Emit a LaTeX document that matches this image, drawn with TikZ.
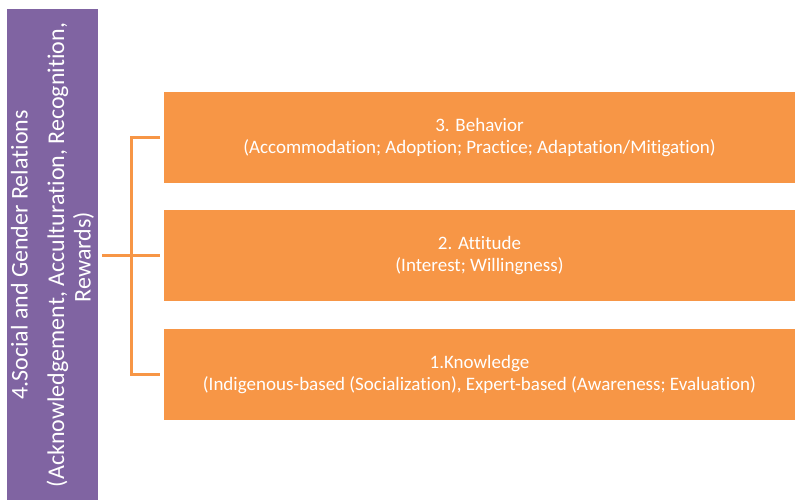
\documentclass[tikz,border=0pt]{standalone}
\usepackage{fontspec}
\setmainfont{Carlito}[Ligatures=NoCommon]
\definecolor{purp}{HTML}{8064A2}
\definecolor{orng}{HTML}{F79646}
\begin{document}
\begin{tikzpicture}[x=1pt,y=1pt,
  bar/.style={fill=purp, draw=none, inner sep=0pt, outer sep=0pt, minimum width=91pt, minimum height=491pt},
  obox/.style={fill=orng, draw=none, inner sep=0pt, outer sep=0pt, minimum width=631pt, minimum height=91pt,
    text=white, align=center, font=\fontsize{19}{22}\selectfont},
  vtext/.style={rotate=90, anchor=base, text=white, inner sep=0pt, font=\fontsize{24}{28}\selectfont},
  conn/.style={draw=orng, line width=3pt}]
\useasboundingbox (0,0) rectangle (795,500);
\node[bar] (p) at (52.5,245.5) {};
\node[vtext] (t1) at (27.5,245) {4.Social and Gender Relations};
\node[vtext] (t2) at (64,245) {(Acknowledgement,\ Acculturation, Recognition,};
\node[vtext] (t3) at (90.5,243) {Rewards)};
\node[obox] (b1) at (479.5,362.5) {\raisebox{-2pt}{\parbox{600pt}{\centering 3. Behavior\\(Accommodation; Adoption; Practice; Adaptation/Mitigation)}}};
\node[obox] (b2) at (479.5,244) {\raisebox{-2pt}{\parbox{600pt}{\centering 2. Attitude\\(Interest; Willingness)}}};
\node[obox] (b3) at (479.5,125.5) {\raisebox{-2pt}{\parbox{600pt}{\centering 1.Knowledge\\(Indigenous-based (Socialization), Expert-based (Awareness; Evaluation)}}};
\coordinate (j) at (131,244);
\draw[conn] ([xshift=4pt]p.east |- j) -- ([xshift=-4pt]b2.west);
\draw[conn] ([xshift=-4pt]b1.west) -- (j |- b1.west) -- (j |- b3.west) -- ([xshift=-4pt]b3.west);
\end{tikzpicture}
\end{document}
